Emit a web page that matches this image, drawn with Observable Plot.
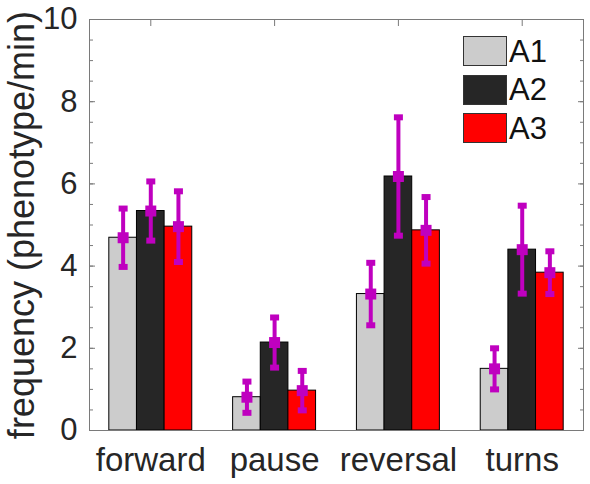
<!DOCTYPE html>
<html>
<head>
<meta charset="utf-8">
<script src="https://cdn.jsdelivr.net/npm/d3@7"></script>
<script src="https://cdn.jsdelivr.net/npm/@observablehq/plot@0.6"></script>
<style>
  body { margin: 0; background: #fff; font-family: "Liberation Sans", Arial, sans-serif; }
  #chart { position: relative; width: 590px; height: 484px; }
  .legend { position: absolute; left: 463px; top: 32px; }
  .legend .item { display: flex; align-items: center; height: 38.5px; }
  .legend .sw { width: 42px; height: 28px; border: 1px solid #333; margin-right: 2px; }
  .legend span { font-size: 31px; color: #111; line-height: 1; }
</style>
</head>
<body>
<div id="chart"></div>
<script>
// Behaviour categories and the three groups compared in each
const categories = ["forward", "pause", "reversal", "turns"];
const series = ["A1", "A2", "A3"];

// Mean frequency (phenotype/min) per category
const A1 = [4.69, 0.81, 3.32, 1.50];
const A2 = [5.34, 2.14, 6.18, 4.40];
const A3 = [4.96, 0.97, 4.87, 3.84];

// Error half-widths
const A1err = [0.71, 0.38, 0.76, 0.50];
const A2err = [0.72, 0.61, 1.44, 1.07];
const A3err = [0.86, 0.48, 0.81, 0.52];

const yMajor = [0, 2, 4, 6, 8, 10];
const yMinor = d3.range(0, 10.001, 0.5);
const yLabel = "frequency (phenotype/min)";

const colors = ["#cccccc", "#262626", "#ff0000"];
const errColor = "#bf00bf";
const axisColor = "#7a7a7a";
const textColor = "#262626";

const values = [A1, A2, A3];
const errors = [A1err, A2err, A3err];
const rows = categories.flatMap((c, j) =>
  series.map((s, i) => ({category: c, series: s, value: values[i][j], err: errors[i][j]}))
);

const width = 590, height = 484;
const marginLeft = 89, marginRight = 7, marginTop = 19, marginBottom = 54;
const paddingInner = 0.33, paddingOuter = 0.16;
const step = (width - marginLeft - marginRight) /
  (categories.length - paddingInner + 2 * paddingOuter);
const barWidth = step * (1 - paddingInner) / series.length;

// flat cap drawn at each error-bar end
const capSymbol = {draw(ctx) { ctx.rect(-4.5, -3, 9, 6); }};

const bars = series.map((s, i) => Plot.barY(rows.filter(d => d.series === s), {
  x: "category", y: "value", fill: colors[i], stroke: "#000", strokeWidth: 1,
  insetLeft: i * barWidth, insetRight: (series.length - 1 - i) * barWidth
}));

const errorBars = series.flatMap((s, i) => {
  const data = rows.filter(d => d.series === s);
  const dx = (i - (series.length - 1) / 2) * barWidth;
  return [
    Plot.ruleX(data, {x: "category", y1: d => d.value - d.err, y2: d => d.value + d.err,
      dx, stroke: errColor, strokeWidth: 4}),
    Plot.dot(data, {x: "category", y: d => d.value + d.err, dx, symbol: capSymbol, fill: errColor, stroke: "none"}),
    Plot.dot(data, {x: "category", y: d => d.value - d.err, dx, symbol: capSymbol, fill: errColor, stroke: "none"}),
    Plot.dot(data, {x: "category", y: "value", dx, symbol: "square", r: 6.2, fill: errColor, stroke: "none"})
  ];
});

const chart = Plot.plot({
  width, height, marginLeft, marginRight, marginTop, marginBottom,
  style: {fontFamily: "'Liberation Sans', Arial, sans-serif", background: "#fff", overflow: "visible"},
  x: {domain: categories, paddingInner, paddingOuter, round: false, axis: null},
  y: {domain: [0, 10], axis: null},
  marks: [
    ...bars,
    ...errorBars,
    Plot.frame({stroke: axisColor}),
    // inward ticks on both vertical sides
    Plot.axisY(yMinor, {anchor: "left", tickSize: -4, tickFormat: () => "", label: null, stroke: axisColor}),
    Plot.axisY(yMinor, {anchor: "right", tickSize: -4, tickFormat: () => "", label: null, stroke: axisColor}),
    Plot.axisY(yMajor, {anchor: "left", tickSize: -6, tickFormat: () => "", label: null, stroke: axisColor}),
    Plot.axisY(yMajor, {anchor: "right", tickSize: -6, tickFormat: () => "", label: null, stroke: axisColor}),
    Plot.axisY(yMajor, {anchor: "left", tickSize: 0, tickPadding: 12, fontSize: 31, fill: textColor, label: null}),
    Plot.text([yLabel], {frameAnchor: "left", rotate: -90, dx: -56, fontSize: 36,
      textAnchor: "middle", lineAnchor: "bottom", fill: textColor}),
    Plot.axisX({anchor: "top", tickSize: -6, tickFormat: () => "", label: null, stroke: axisColor}),
    Plot.axisX({anchor: "bottom", tickSize: 0, tickPadding: 17, fontSize: 33, fill: textColor, label: null})
  ]
});

const container = document.getElementById("chart");
container.appendChild(chart);

// legend
const legend = document.createElement("div");
legend.className = "legend";
series.forEach((s, i) => {
  const item = document.createElement("div");
  item.className = "item";
  const sw = document.createElement("div");
  sw.className = "sw";
  sw.style.background = colors[i];
  const label = document.createElement("span");
  label.textContent = s;
  item.append(sw, label);
  legend.appendChild(item);
});
container.appendChild(legend);
</script>
</body>
</html>
